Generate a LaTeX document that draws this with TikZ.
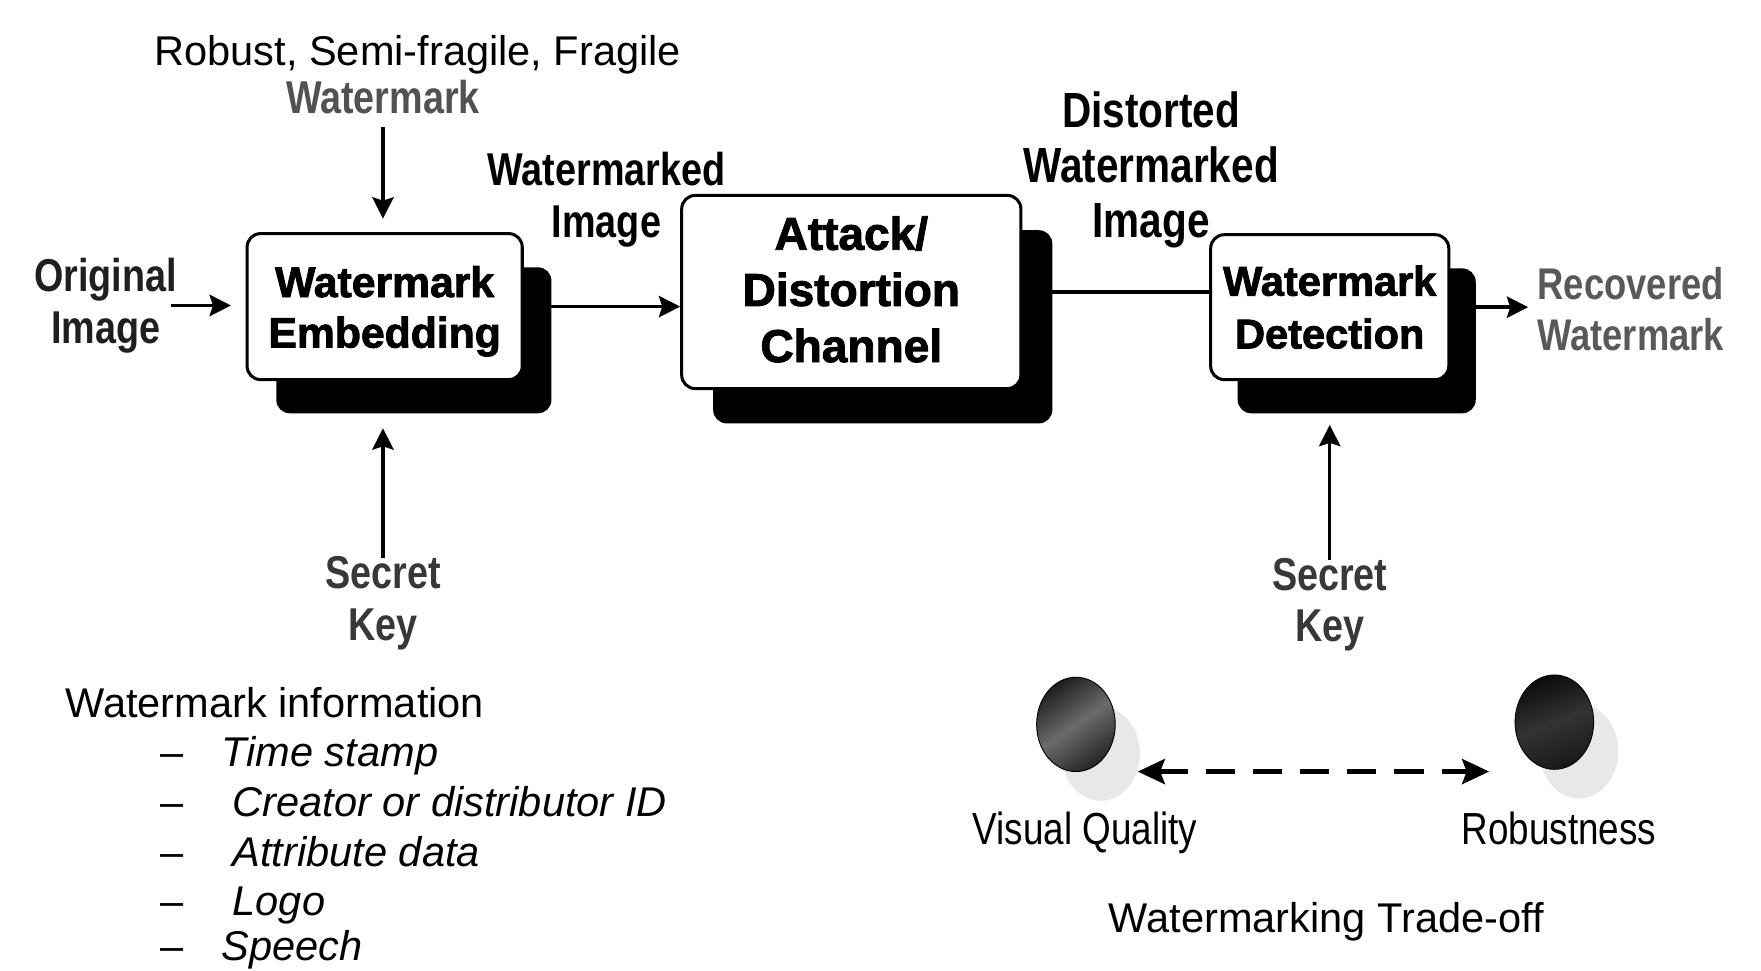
\documentclass[tikz,border=0pt]{standalone}
\usepackage{fontspec}
\setmainfont{Liberation Sans}
\newfontfamily\narrowfont[FakeStretch=0.82]{Liberation Sans}
\newfontfamily\heavyfont[BoldFeatures={FakeBold=2}]{Liberation Sans}
\usetikzlibrary{arrows.meta,shadows,calc,shapes.geometric}
\pgfdeclarelayer{background}
\pgfsetlayers{background,main}

\tikzset{
  flow/.style={line width=3pt, -{Stealth[length=19pt,width=19pt,inset=3pt]}},
  block/.style={draw=black, line width=2.7pt, fill=white, rounded corners=12pt,
    align=center, inner sep=0pt},
  blockshadow/.style 2 args={drop shadow={shadow xshift=#1, shadow yshift=#2,
    opacity=1, fill=black}},
  lbl/.style={align=center, inner sep=2pt,
    font=\narrowfont\bfseries\fontsize{41}{46}\selectfont},
  plain/.style={inner sep=0pt, font=\fontsize{37}{44.6}\selectfont},
  listitem/.style={plain, anchor=base west, font=\itshape\fontsize{37}{44.6}\selectfont},
  axislbl/.style={inner sep=0pt, anchor=base, font=\narrowfont\fontsize{40}{46}\selectfont},
  ball/.style={ellipse, draw=black, line width=0.8pt, minimum width=70pt,
    minimum height=84pt, inner sep=0pt,
    drop shadow={shadow xshift=22pt, shadow yshift=-26pt, opacity=1, fill=black!9}},
}

\begin{document}
\begin{tikzpicture}[x=1pt,y=-1pt]
\useasboundingbox (0,0) rectangle (1568,864);

% processing blocks
\node[block, blockshadow={26pt}{-30pt}, minimum width=245pt, minimum height=130pt,
  font=\heavyfont\bfseries\fontsize{38}{45}\selectfont] (embed) at (342.5,273)
  {\rule{0pt}{36pt}Watermark\\Embedding};
\node[block, blockshadow={28pt}{-31pt}, minimum width=302pt, minimum height=172pt,
  font=\heavyfont\bfseries\fontsize{41}{50}\selectfont] (attack) at (758,260)
  {Attack/\\Distortion\\Channel\rule[-5pt]{0pt}{0pt}};
\node[block, blockshadow={24pt}{-30pt}, minimum width=212pt, minimum height=129pt,
  font=\heavyfont\bfseries\fontsize{37}{47}\selectfont] (detect) at (1184,273.5)
  {Watermark\\Detection};

% labels around the blocks
\node[plain, anchor=base] (types) at (372,58) {Robust, Semi-fragile, Fragile};
\node[lbl, text=black!68] (wm) at (341,86) {Watermark};
\node[lbl, text=black!88] (orig) at (94,272) {Original\\Image};
\node[lbl] (wmimg) at (540,178) {Watermarked\\Image};
\node[lbl, font=\narrowfont\bfseries\fontsize{44}{49}\selectfont] (dist) at (1025,151.5)
  {Distorted\\Watermarked\\Image};
\node[lbl, text=black!65, font=\narrowfont\bfseries\fontsize{39.5}{45}\selectfont] (rec)
  at (1452,275.5) {Recovered\\Watermark};
\node[lbl, text=black!78] (key1) at (341,537) {Secret\\Key};
\node[lbl, text=black!78] (key2) at (1184,538.5) {Secret\\Key};

\coordinate (origout) at (152,272);

% connectors behind the blocks and their shadows
\begin{pgfonlayer}{background}
  \draw[flow, shorten >=13pt] (origout) -- (origout -| embed.west);
  \draw[flow, shorten <=10pt, shorten >=12pt] (wm.south) -- (wm.south |- embed.north);
  \draw[flow] (embed.east) -- (embed.east -| attack.west);
  \draw[line width=3.4pt] (attack.east) -- (attack.east -| detect.west);
  \draw[flow, shorten >=6pt] (detect.east) -- (detect.east -| rec.west);
  \draw[flow, shorten <=-4pt, shorten >=42pt] (key1.north) -- (key1.north |- embed.south);
  \draw[flow, shorten <=-4pt, shorten >=39pt] (key2.north) -- (key2.north |- detect.south);
\end{pgfonlayer}

% watermark information list
\node[plain, anchor=base west] (info) at (58,638.5) {Watermark information};
\node[listitem] (i1) at (143,682.5) {\makebox[54pt][l]{\upshape –}Time stamp};
\node[listitem] (i2) at (143,727) {\makebox[64pt][l]{\upshape –}Creator or distributor ID};
\node[listitem] (i3) at (143,771.5) {\makebox[64pt][l]{\upshape –}Attribute data};
\node[listitem] (i4) at (143,815.5) {\makebox[64pt][l]{\upshape –}Logo};
\node[listitem] (i5) at (143,855.5) {\makebox[54pt][l]{\upshape –}Speech};

% trade-off between visual quality and robustness
\node[ball, top color=black!88, bottom color=black!85, middle color=black!58,
  shading angle=35] (vq) at (958,645) {};
\node[ball, top color=black!95, bottom color=black!90, middle color=black!80,
  shading angle=20] (rb) at (1384,643) {};
\coordinate (tql) at (1013,687);
\coordinate (tqr) at (1326,687);
\draw[line width=5pt, dash pattern=on 26pt off 16pt,
  {Stealth[length=24pt,width=22pt,inset=4pt]}-{Stealth[length=24pt,width=22pt,inset=4pt]}]
  (tql) -- (tqr);
\node[axislbl] (vqlbl) at (966,752) {Visual Quality};
\node[axislbl] (rblbl) at (1388,752) {Robustness};
\node[plain, anchor=base] (tradeoff) at (1181,830) {Watermarking Trade-off};
\end{tikzpicture}
\end{document}
